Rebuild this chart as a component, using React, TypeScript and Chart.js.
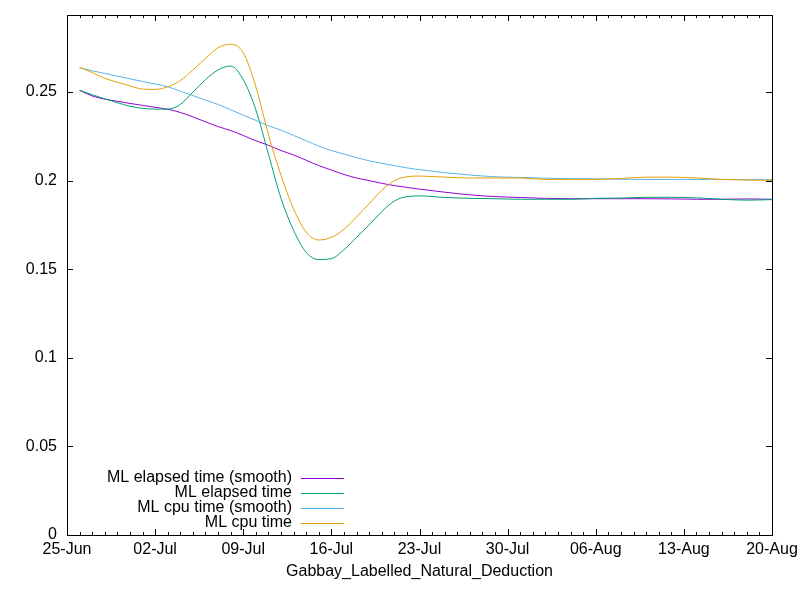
import { useEffect, useRef } from 'react';
import { Chart, registerables, Plugin } from 'chart.js';

Chart.register(...registerables);

// days since 25-Jun
const days = [
  1, 2, 3, 4, 5, 6, 7, 8, 9, 10, 11, 12, 13, 14, 15, 16, 17, 18, 19, 20, 21, 22, 23, 24, 25, 26, 27, 28,
  30, 32, 34, 36, 38, 40, 42, 44, 46, 48, 50, 52, 54, 56,
];

const tickLabels = ['25-Jun', '02-Jul', '09-Jul', '16-Jul', '23-Jul', '30-Jul', '06-Aug', '13-Aug', '20-Aug'];

const elapsedSmooth = [
  0.251, 0.2478, 0.246, 0.2448, 0.2436, 0.2425, 0.2414, 0.2403, 0.2385, 0.236, 0.2332, 0.2305, 0.2283, 0.2255,
  0.2225, 0.22, 0.217, 0.2145, 0.2115, 0.2085, 0.206, 0.2035, 0.2015, 0.2, 0.1985, 0.1972, 0.1962, 0.1952,
  0.1935, 0.192, 0.191, 0.1905, 0.19, 0.1898, 0.1898, 0.1898, 0.1898, 0.1897, 0.1895, 0.1895, 0.1897, 0.1895,
];

const elapsed = [
  0.251, 0.2485, 0.2462, 0.244, 0.242, 0.2408, 0.2404, 0.2404, 0.243, 0.25, 0.257, 0.2625, 0.2647, 0.257,
  0.24, 0.215, 0.19, 0.172, 0.1595, 0.1555, 0.156, 0.161, 0.168, 0.175, 0.1825, 0.1885, 0.191, 0.1914,
  0.1905, 0.19, 0.1898, 0.1895, 0.1895, 0.1895, 0.19, 0.1902, 0.1906, 0.1906, 0.1903, 0.1895, 0.189, 0.1893,
];

const cpuSmooth = [
  0.2637, 0.262, 0.2605, 0.259, 0.2575, 0.256, 0.2545, 0.253, 0.2505, 0.248, 0.2455, 0.243, 0.24, 0.237,
  0.234, 0.231, 0.2285, 0.2255, 0.2225, 0.2195, 0.217, 0.215, 0.213, 0.2112, 0.2098, 0.2085, 0.2072, 0.2062,
  0.2045, 0.2032, 0.2022, 0.2018, 0.2014, 0.2011, 0.201, 0.2008, 0.2007, 0.2007, 0.2007, 0.2007, 0.2006, 0.2005,
];

const cpu = [
  0.2641, 0.261, 0.2578, 0.2555, 0.2535, 0.2517, 0.2515, 0.253, 0.2565, 0.2625, 0.269, 0.275, 0.277, 0.2722,
  0.253, 0.226, 0.203, 0.184, 0.171, 0.1665, 0.168, 0.1725, 0.1795, 0.187, 0.1945, 0.2, 0.2022, 0.2026,
  0.202, 0.2015, 0.2015, 0.2015, 0.2007, 0.2007, 0.2007, 0.2012, 0.202, 0.202, 0.2015, 0.2007, 0.2003, 0.2002,
];

const seriesNames = ['ML elapsed time (smooth)', 'ML elapsed time', 'ML cpu time (smooth)', 'ML cpu time'];
const seriesColors = ['#9400d3', '#009e73', '#56b4e9', '#e69f00'];

const FONT = { family: "'Liberation Sans', Arial, sans-serif", size: 16 };

// gnuplot-style frame, inward ticks (mirrored), daily minor ticks
const framePlugin: Plugin = {
  id: 'frame',
  afterDraw(chart) {
    const { ctx, chartArea: a, scales } = chart;
    const xs = scales.x;
    const ys = scales.y;
    ctx.save();
    ctx.strokeStyle = '#000';
    ctx.lineWidth = 1;
    ctx.beginPath();
    for (let d = 0; d <= 56; d++) {
      const px = Math.round(xs.getPixelForValue(d)) + 0.5;
      const len = d % 7 === 0 ? 6 : 3;
      ctx.moveTo(px, a.bottom);
      ctx.lineTo(px, a.bottom - len);
      ctx.moveTo(px, a.top);
      ctx.lineTo(px, a.top + len);
    }
    ys.ticks.forEach((t) => {
      const py = Math.round(ys.getPixelForValue(t.value)) + 0.5;
      ctx.moveTo(a.left, py);
      ctx.lineTo(a.left + 6, py);
      ctx.moveTo(a.right, py);
      ctx.lineTo(a.right - 6, py);
    });
    ctx.stroke();
    ctx.strokeRect(Math.round(a.left) + 0.5, Math.round(a.top) + 0.5, Math.round(a.right - a.left), Math.round(a.bottom - a.top));

    // legend: right-aligned text with sample line to the right
    ctx.font = `${FONT.size}px ${FONT.family}`;
    ctx.textAlign = 'right';
    ctx.textBaseline = 'middle';
    chart.data.datasets.forEach((ds, i) => {
      const y = 478 + i * 15;
      ctx.fillStyle = '#000';
      ctx.fillText(String(ds.label), 292, y);
      ctx.strokeStyle = ds.borderColor as string;
      ctx.beginPath();
      ctx.moveTo(301, Math.round(y) + 0.5);
      ctx.lineTo(344, Math.round(y) + 0.5);
      ctx.stroke();
    });
    ctx.restore();
  },
};

export default function App() {
  const canvasRef = useRef<HTMLCanvasElement>(null);

  useEffect(() => {
    if (!canvasRef.current) return;
    document.body.style.margin = '0';
    const all = [elapsedSmooth, elapsed, cpuSmooth, cpu];

    const chart = new Chart(canvasRef.current, {
      type: 'line',
      data: {
        datasets: all.map((vals, i) => ({
          label: seriesNames[i],
          data: days.map((d, j) => ({ x: d, y: vals[j] })),
          borderColor: seriesColors[i],
          borderWidth: 1,
          pointRadius: 0,
          cubicInterpolationMode: 'monotone' as const,
          order: 4 - i,
        })),
      },
      options: {
        animation: false,
        responsive: true,
        maintainAspectRatio: false,
        devicePixelRatio: 1,
        layout: { padding: { top: 15, right: 28, left: 0, bottom: 0 } },
        plugins: { legend: { display: false }, tooltip: { enabled: false } },
        scales: {
          x: {
            type: 'linear',
            min: 0,
            max: 56,
            grid: { display: false, drawTicks: false },
            border: { display: false },
            ticks: {
              stepSize: 7,
              autoSkip: false,
              maxRotation: 0,
              includeBounds: false,
              padding: 5,
              color: '#000',
              font: FONT,
              callback: (v) => tickLabels[Math.round(Number(v) / 7)] ?? '',
            },
            title: {
              display: true,
              text: 'Gabbay_Labelled_Natural_Deduction',
              color: '#000',
              font: FONT,
              padding: { top: 0, bottom: 19 },
            },
            afterFit: (s) => {
              s.height = 65;
              s.paddingLeft = 0;
              s.paddingRight = 0;
            },
          },
          y: {
            min: 0,
            max: 0.2935,
            grid: { display: false, drawTicks: false },
            border: { display: false },
            ticks: {
              stepSize: 0.05,
              includeBounds: false,
              padding: 10,
              color: '#000',
              font: FONT,
              callback: (v) => String(Number(Number(v).toFixed(2))),
            },
            afterFit: (s) => {
              s.width = 67;
              s.paddingTop = 0;
              s.paddingBottom = 0;
            },
          },
        },
      },
      plugins: [framePlugin],
    });

    return () => chart.destroy();
  }, []);

  return (
    <div style={{ position: 'absolute', left: 0, top: 0, width: 800, height: 600, background: '#fff' }}>
      <canvas ref={canvasRef} />
    </div>
  );
}
